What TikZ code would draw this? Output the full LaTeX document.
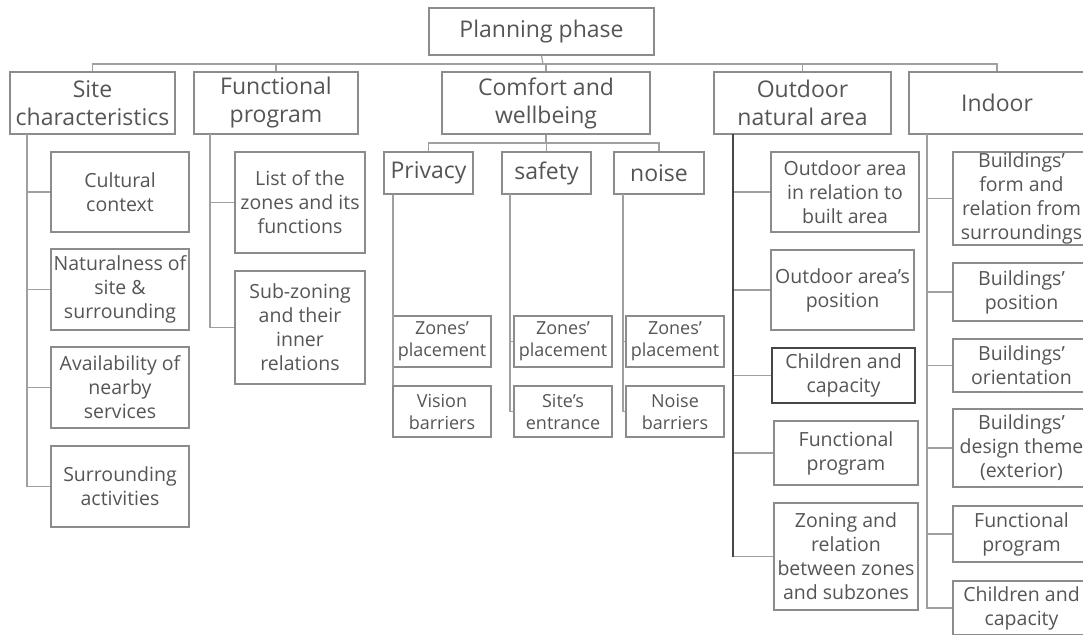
\documentclass[tikz,border=0pt]{standalone}
\usepackage{fontspec}
\setmainfont{Open Sans}
\usepackage{tikz}
\usetikzlibrary{positioning, calc}
\definecolor{linegray}{RGB}{160,160,160}
\definecolor{boxgray}{RGB}{140,140,140}
\definecolor{darkline}{RGB}{70,70,70}
\definecolor{textgray}{RGB}{85,85,85}

\tikzset{
  box/.style={draw=boxgray, line width=1.2pt, text=textgray, align=center, inner sep=0pt},
  headbox/.style={box, font=\fontsize{23}{28}\selectfont},
  leafbox/.style={box, font=\fontsize{19.5}{24}\selectfont},
  smallbox/.style={box, font=\fontsize{18}{22}\selectfont},
  link/.style={draw=linegray, line width=1.2pt}
}

\begin{document}
\begin{tikzpicture}[x=1pt, y=-1pt]
\useasboundingbox (0,0) rectangle (1083,634);
\clip (0,0) rectangle (1083,634);

% Root
\node[headbox, minimum width=225, minimum height=47] (plan) at (541.5,31.5) {Planning phase};

% Main categories
\node[headbox, minimum width=165, minimum height=62] (site) at (92.5,103) {Site\\characteristics};
\node[headbox, minimum width=164, minimum height=62] (func) at (276,103) {Functional\\program};
\node[headbox, minimum width=208, minimum height=62] (comfort) at (546,103) {Comfort and\\wellbeing};
\node[headbox, minimum width=177, minimum height=62] (outdoor) at (802.5,103) {Outdoor\\natural area};
\node[headbox, minimum width=176, minimum height=62] (indoor) at (997,103) {Indoor};

% Bus from root
\coordinate (bus) at (543,64);
\draw[link] (plan.south) -- (bus);
\draw[link] (site.north) -- (site.north |- bus) -- (indoor.north |- bus) -- (indoor.north);
\foreach \n in {func, comfort, outdoor}
  \draw[link] (\n.north) -- (\n.north |- bus);

% Site characteristics
\node[leafbox, minimum width=138, minimum height=80] (cult) at (120,192) {Cultural\\context};
\node[leafbox, minimum width=138, minimum height=81] (nat) at (120,289.5) {Naturalness of\\site \&\\surrounding};
\node[leafbox, minimum width=138, minimum height=81] (avail) at (120,387.5) {Availability of\\nearby\\services};
\node[leafbox, minimum width=138, minimum height=81] (surr) at (120,486.5) {Surrounding\\activities};
\coordinate (sitestem) at (27,134);
\foreach \n in {cult, nat, avail, surr}
  \draw[link] (sitestem) |- (\n.west);

% Functional program
\node[leafbox, minimum width=130, minimum height=101] (zonelist) at (300,202.5) {List of the\\zones and its\\functions};
\node[leafbox, minimum width=130, minimum height=113] (subzone) at (300,327.5) {Sub-zoning\\and their\\inner\\relations};
\coordinate (funcstem) at (210,134);
\foreach \n in {zonelist, subzone}
  \draw[link] (funcstem) |- (\n.west);

% Comfort and wellbeing
\node[headbox, minimum width=89, minimum height=42] (privacy) at (428.5,173) {Privacy};
\node[headbox, minimum width=89, minimum height=42] (safety) at (546.5,173) {safety};
\node[headbox, minimum width=90, minimum height=42] (noise) at (659,173) {noise};
\coordinate (subbus) at (546,143);
\draw[link] (comfort.south) -- (subbus);
\draw[link] (privacy.north) -- (privacy.north |- subbus) -- (noise.north |- subbus) -- (noise.north);
\draw[link] (safety.north) -- (safety.north |- subbus);

\node[smallbox, minimum width=98, minimum height=51] (privzone) at (442,341.5) {Zones'\\placement};
\node[smallbox, minimum width=98, minimum height=51] (privvision) at (442,411.5) {Vision\\barriers};
\node[smallbox, minimum width=98, minimum height=51] (safezone) at (563,341.5) {Zones'\\placement};
\node[smallbox, minimum width=98, minimum height=51] (safeentry) at (563,411.5) {Site's\\entrance};
\node[smallbox, minimum width=98, minimum height=51] (noisezone) at (675,341.5) {Zones'\\placement};
\node[smallbox, minimum width=98, minimum height=51] (noisebarrier) at (675,411.5) {Noise\\barriers};
\draw[link] (privacy.south -| 393,0) -- (privvision.north -| 393,0);
\foreach \s/\a/\b in {510/safezone/safeentry, 623/noisezone/noisebarrier} {
  \draw[link] (\s,194) |- (\a.west);
  \draw[link] (\s,194) |- (\b.west);
}

% Outdoor natural area
\node[leafbox, minimum width=148, minimum height=80] (oarea) at (845,192) {Outdoor area\\in relation to\\built area};
\node[leafbox, minimum width=143, minimum height=80] (opos) at (842.5,290) {Outdoor area's\\position};
\node[leafbox, draw=darkline, minimum width=143, minimum height=55] (ochild) at (843.5,375.5) {Children and\\capacity};
\node[leafbox, minimum width=144, minimum height=64] (ofunc) at (846,453) {Functional\\program};
\node[leafbox, minimum width=144, minimum height=107] (ozone) at (846,556.5) {Zoning and\\relation\\between zones\\and subzones};
\coordinate (outstem) at (733,134);
\foreach \n in {oarea, opos, ochild, ofunc, ozone}
  \draw[link] (outstem) |- (\n.west);
\draw[draw=darkline, line width=1.2pt] (outstem) -- (outstem |- ozone.west);

% Indoor
\node[leafbox, minimum width=137, minimum height=93] (bform) at (1021.5,198.5) {Buildings'\\form and\\relation from\\surroundings};
\node[leafbox, minimum width=137, minimum height=58] (bpos) at (1021.5,292) {Buildings'\\position};
\node[leafbox, minimum width=137, minimum height=53] (borient) at (1021.5,365.5) {Buildings'\\orientation};
\node[leafbox, minimum width=137, minimum height=78] (bdesign) at (1021.5,448) {Buildings'\\design theme\\(exterior)};
\node[leafbox, minimum width=137, minimum height=56] (bfunc) at (1021.5,534) {Functional\\program};
\node[leafbox, minimum width=137, minimum height=54] (bchild) at (1021.5,608) {Children and\\capacity};
\coordinate (instem) at (927,134);
\foreach \n in {bform, bpos, borient, bdesign, bfunc, bchild}
  \draw[link] (instem) |- (\n.west);

\end{tikzpicture}
\end{document}
